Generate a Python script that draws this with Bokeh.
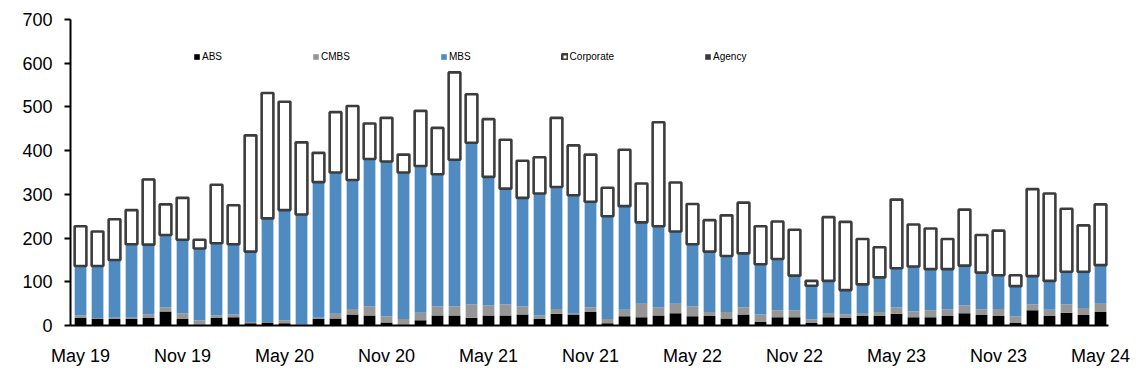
from bokeh.plotting import figure
from bokeh.models import ColumnDataSource, FixedTicker, Legend, LegendItem, Range1d
from bokeh.embed import file_html
from bokeh.resources import INLINE

# Monthly issuance, May 2019 .. May 2024 (61 months)
abs_vals = [17, 15, 15, 15, 17, 32, 15, 2, 17, 19, 5, 7, 5, 0, 15, 16, 25, 23, 7, 2,
            12, 23, 23, 18, 23, 23, 25, 15, 27, 25, 31, 5, 21, 19, 23, 28, 21, 22, 16, 25,
            8, 19, 19, 6, 19, 17, 22, 22, 27, 19, 19, 22, 28, 24, 22, 6, 35, 22, 29, 24, 31]
cmbs_vals = [6, 2, 3, 3, 9, 10, 13, 10, 6, 6, 3, 1, 7, 2, 3, 11, 13, 21, 14, 13,
             17, 21, 21, 30, 23, 25, 19, 8, 11, 2, 11, 10, 15, 31, 19, 22, 23, 9, 15, 17,
             17, 16, 16, 8, 8, 8, 5, 9, 14, 13, 16, 15, 18, 13, 16, 15, 13, 14, 19, 16, 19]
mbs_vals = [113, 119, 132, 168, 159, 165, 168, 164, 165, 161, 161, 237, 252, 252, 310, 323, 295, 337, 354, 335,
            336, 302, 335, 370, 294, 265, 248, 279, 279, 271, 241, 235, 237, 186, 185, 165, 142, 138, 128, 123,
            115, 117, 79, 77, 75, 56, 67, 79, 90, 103, 94, 92, 91, 84, 77, 69, 65, 66, 75, 83, 88]
corporate_vals = [91, 79, 93, 78, 149, 70, 96, 20, 134, 89, 266, 287, 248, 165, 67, 138, 169, 81, 100, 41,
                  126, 106, 200, 111, 132, 112, 85, 83, 158, 114, 108, 65, 129, 89, 238, 112, 92, 72, 93, 116,
                  87, 86, 105, 11, 146, 156, 104, 69, 157, 96, 93, 69, 128, 86, 102, 25, 199, 200, 144, 106, 139]
agency_vals = [0, 0, 2, 0, 2, 2, 0, 0, 0, 0, 0, 0, 0, 0, 0, 0, 0, 0, 0, 0,
               0, 0, 0, 0, 0, 0, 0, 0, 0, 0, 0, 0, 0, 0, 0, 0, 0, 0, 0, 0,
               0, 0, 0, 0, 0, 0, 0, 0, 0, 0, 0, 0, 0, 0, 0, 0, 0, 0, 0, 0, 0]

tick_labels = ["May 19", "Nov 19", "May 20", "Nov 20", "May 21", "Nov 21",
               "May 22", "Nov 22", "May 23", "Nov 23", "May 24"]
series_names = ["ABS", "CMBS", "MBS", "Corporate", "Agency"]
fill_colors = ["#000000", "#969696", "#4F8BC1", "#FFFFFF", "#3A3A3A"]

n = len(abs_vals)
tick_pos = list(range(0, n, 6))
src = ColumnDataSource(dict(x=list(range(n)), ABS=abs_vals, CMBS=cmbs_vals, MBS=mbs_vals,
                            Corporate=corporate_vals, Agency=agency_vals))

FONT = "Liberation Sans"
p = figure(width=1132, height=370, output_backend="svg", toolbar_location=None,
           x_range=Range1d(-0.59, n - 1 + 0.47), y_range=Range1d(0, 700),
           min_border_left=70, min_border_right=24, min_border_top=19, min_border_bottom=45)
p.outline_line_color = None
p.xgrid.visible = False
p.ygrid.visible = False
p.background_fill_color = "white"

rs = p.vbar_stack(series_names, x="x", width=0.69, source=src,
                  fill_color=fill_colors,
                  line_color=[None, None, None, "#3C3C3C", None],
                  line_width=[0, 0, 0, 2.6, 0])

p.yaxis.ticker = FixedTicker(ticks=list(range(0, 701, 100)))
p.yaxis.major_tick_out = 6
p.yaxis.major_tick_in = 0
p.yaxis.minor_tick_line_color = None
p.yaxis.axis_line_width = 2
p.yaxis.axis_line_color = "black"
p.yaxis.major_tick_line_width = 2
p.yaxis.major_label_standoff = 12
p.yaxis.major_label_text_font = FONT
p.yaxis.major_label_text_font_size = "18px"
p.yaxis.major_label_text_color = "black"

p.xaxis.ticker = FixedTicker(ticks=tick_pos)
p.xaxis.major_label_overrides = {t: l for t, l in zip(tick_pos, tick_labels)}
p.xaxis.major_tick_out = 0
p.xaxis.major_tick_in = 0
p.xaxis.minor_tick_line_color = None
p.xaxis.axis_line_width = 2
p.xaxis.axis_line_color = "black"
p.xaxis.major_label_standoff = 20
p.xaxis.major_label_text_font = FONT
p.xaxis.major_label_text_font_size = "18px"
p.xaxis.major_label_text_color = "black"

legend = Legend(items=[LegendItem(label=nm, renderers=[r]) for nm, r in zip(series_names, rs)],
                orientation="horizontal", location=(123, 263),
                glyph_width=7, glyph_height=7, label_standoff=2, spacing=90,
                padding=0, margin=0, border_line_color=None, background_fill_alpha=0,
                label_text_font=FONT, label_text_font_size="10px", label_text_color="black")
p.add_layout(legend)

open("out.html", "w").write(file_html(p, INLINE))
